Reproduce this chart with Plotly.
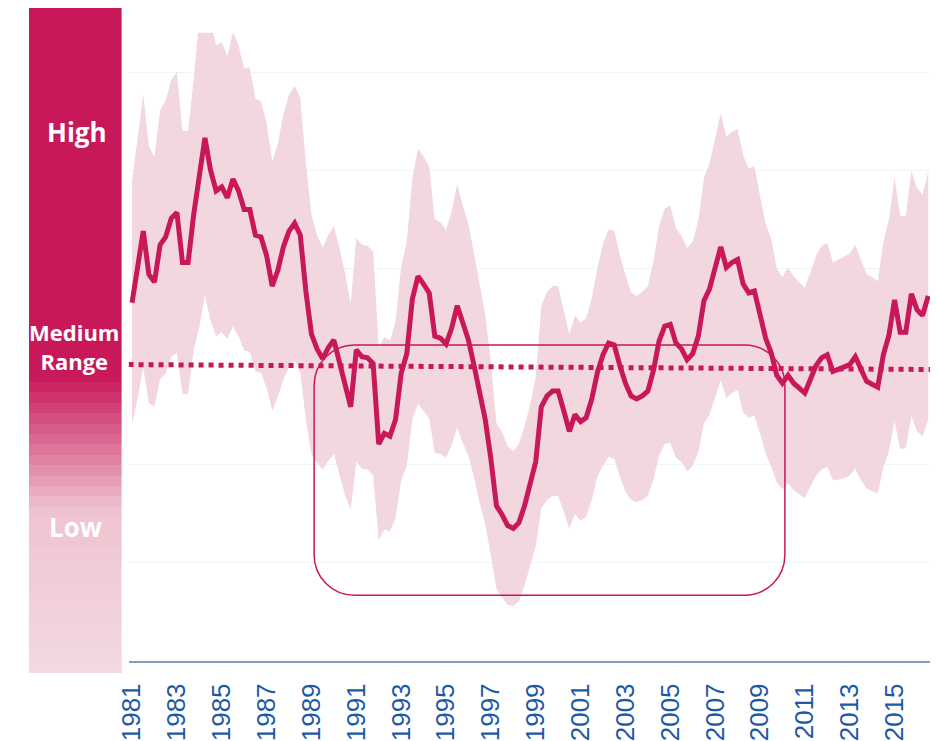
import numpy as np
import pandas as pd
import plotly.graph_objects as go

# quarterly series, 1981 Q1 .. 2016 Q3
FIRST_QUARTER = "1981Q1"
LAST_QUARTER = "2016Q3"

level = [
    3.65, 4.01, 4.38, 3.94,  # 1981
    3.86, 4.24, 4.32, 4.51,  # 1982
    4.57, 4.06, 4.06, 4.55,  # 1983
    4.98, 5.33, 5.00, 4.79,  # 1984
    4.83, 4.72, 4.91, 4.79,  # 1985
    4.60, 4.60, 4.34, 4.32,  # 1986
    4.13, 3.82, 3.98, 4.22,  # 1987
    4.38, 4.46, 4.34, 3.77,  # 1988
    3.33, 3.18, 3.08, 3.19,  # 1989
    3.27, 3.05, 2.82, 2.59,  # 1990
    3.17, 3.10, 3.09, 3.03,  # 1991
    2.21, 2.32, 2.29, 2.46,  # 1992
    2.93, 3.13, 3.69, 3.92,  # 1993
    3.84, 3.75, 3.31, 3.29,  # 1994
    3.23, 3.39, 3.62, 3.43,  # 1995
    3.27, 3.01, 2.72, 2.46,  # 1996
    2.06, 1.58, 1.49, 1.38,  # 1997
    1.35, 1.41, 1.58, 1.79,  # 1998
    2.03, 2.59, 2.70, 2.75,  # 1999
    2.75, 2.55, 2.34, 2.51,  # 2000
    2.44, 2.48, 2.67, 2.94,  # 2001
    3.12, 3.24, 3.22, 3.01,  # 2002
    2.83, 2.70, 2.67, 2.70,  # 2003
    2.75, 2.96, 3.26, 3.41,  # 2004
    3.43, 3.24, 3.18, 3.07,  # 2005
    3.13, 3.31, 3.67, 3.79,  # 2006
    4.01, 4.22, 4.01, 4.06,  # 2007
    4.09, 3.84, 3.75, 3.77,  # 2008
    3.53, 3.29, 3.14, 2.91,  # 2009
    2.83, 2.91, 2.83, 2.78,  # 2010
    2.73, 2.87, 3.01, 3.09,  # 2011
    3.12, 2.95, 2.97, 2.99,  # 2012
    3.02, 3.10, 2.96, 2.85,  # 2013
    2.82, 2.79, 3.12, 3.32,  # 2014
    3.68, 3.35, 3.35, 3.74,  # 2015
    3.58, 3.52, 3.72,        # 2016
]

# half width of the shaded range around the level
band_half_width = [
    1.24, 1.33, 1.39, 1.31,  # 1981
    1.27, 1.37, 1.39, 1.41,  # 1982
    1.43, 1.34, 1.34, 1.38,  # 1983
    1.58, 1.60, 1.53, 1.48,  # 1984
    1.48, 1.44, 1.50, 1.48,  # 1985
    1.44, 1.45, 1.39, 1.38,  # 1986
    1.35, 1.27, 1.29, 1.35,  # 1987
    1.39, 1.40, 1.40, 1.31,  # 1988
    1.22, 1.16, 1.13, 1.15,  # 1989
    1.16, 1.16, 1.13, 1.05,  # 1990
    1.14, 1.14, 1.14, 1.14,  # 1991
    0.98, 0.98, 0.97, 1.00,  # 1992
    1.09, 1.14, 1.23, 1.30,  # 1993
    1.30, 1.28, 1.19, 1.18,  # 1994
    1.16, 1.19, 1.24, 1.21,  # 1995
    1.18, 1.14, 1.11, 1.07,  # 1996
    0.98, 0.84, 0.84, 0.81,  # 1997
    0.79, 0.80, 0.81, 0.82,  # 1998
    0.86, 1.03, 1.06, 1.07,  # 1999
    1.07, 1.03, 0.99, 1.01,  # 2000
    1.01, 1.01, 1.03, 1.06,  # 2001
    1.13, 1.16, 1.16, 1.13,  # 2002
    1.10, 1.06, 1.05, 1.06,  # 2003
    1.07, 1.11, 1.17, 1.20,  # 2004
    1.21, 1.17, 1.15, 1.14,  # 2005
    1.14, 1.18, 1.25, 1.28,  # 2006
    1.32, 1.36, 1.33, 1.33,  # 2007
    1.33, 1.31, 1.27, 1.27,  # 2008
    1.21, 1.17, 1.16, 1.09,  # 2009
    1.08, 1.10, 1.09, 1.08,  # 2010
    1.07, 1.09, 1.12, 1.14,  # 2011
    1.14, 1.11, 1.12, 1.13,  # 2012
    1.13, 1.14, 1.12, 1.09,  # 2013
    1.09, 1.08, 1.15, 1.18,  # 2014
    1.24, 1.19, 1.18, 1.25,  # 2015
    1.24, 1.23, 1.26,        # 2016
]

tick_years = list(range(1981, 2016, 2))

# dotted reference level at the left and right edge of the chart
ref_level = [3.02, 2.97]

# highlighted period (rounded box)
box_years = [1989.12, 2010.11]
box_levels = [0.67, 3.22]

# left scale bar: labels and gradient stops (0 = bottom, 1 = top)
bar_labels = ["High", "Medium<br>Range", "Low"]
bar_stops = [[0.0, "#f3d9e0"], [0.245, "#eec3cf"], [0.446, "#c8185a"], [1.0, "#c8185a"]]

MAGENTA = "#c8185a"
BAND = "#f2d7de"
BLUE = "#1d5aa6"

# the page body adds an 8px offset, so the figure is drawn 8px smaller
OFFSET = 8
W, H = 938 - OFFSET, 741 - OFFSET
X_RANGE = [1980.846, 2016.629]
Y_RANGE = [0, 6.4]


def px_x(p):
    return min(1.0, max(0.0, (p - OFFSET) / W))


def px_y(p):
    return min(1.0, max(0.0, 1 - (p - OFFSET) / H))


periods = pd.period_range(FIRST_QUARTER, LAST_QUARTER, freq="Q")
years = np.asarray(periods.year + (periods.quarter - 1) / 4, dtype=float)
level = np.array(level)
half = np.array(band_half_width)
upper = level + half
lower = level - half

fig = go.Figure()

# shaded range
fig.add_trace(go.Scatter(x=years, y=lower, mode="lines", line=dict(width=0),
                         hoverinfo="skip", showlegend=False))
fig.add_trace(go.Scatter(x=years, y=upper, mode="lines", line=dict(width=0),
                         fill="tonexty", fillcolor=BAND, hoverinfo="skip", showlegend=False))

# dotted reference level
fig.add_trace(go.Scatter(x=X_RANGE, y=ref_level, mode="lines",
                         line=dict(color=MAGENTA, width=5, dash="5px,5px"),
                         hoverinfo="skip", showlegend=False))

# main line
fig.add_trace(go.Scatter(x=years, y=level, mode="lines",
                         line=dict(color=MAGENTA, width=5), showlegend=False))

# gradient scale bar on its own axes
n = 64
steps = (np.arange(n) + 0.5) / n
fig.add_trace(go.Heatmap(x=[0], y=steps, z=[[s] for s in steps], colorscale=bar_stops,
                         zmin=0, zmax=1, showscale=False, zsmooth=False,
                         hoverinfo="skip", xaxis="x2", yaxis="y2"))

# rounded box around the period
x0, x1 = box_years
y0, y1 = box_levels
rx, ry = 1.8, 0.41
k = 0.5523
path = (
    f"M {x0 + rx},{y1} L {x1 - rx},{y1} "
    f"C {x1 - rx + k * rx},{y1} {x1},{y1 - ry + k * ry} {x1},{y1 - ry} "
    f"L {x1},{y0 + ry} "
    f"C {x1},{y0 + ry - k * ry} {x1 - rx + k * rx},{y0} {x1 - rx},{y0} "
    f"L {x0 + rx},{y0} "
    f"C {x0 + rx - k * rx},{y0} {x0},{y0 + ry - k * ry} {x0},{y0 + ry} "
    f"L {x0},{y1 - ry} "
    f"C {x0},{y1 - ry + k * ry} {x0 + rx - k * rx},{y1} {x0 + rx},{y1} Z"
)
fig.add_shape(type="path", path=path, xref="x", yref="y",
              line=dict(color=MAGENTA, width=1.5), layer="above")

# labels on the scale bar
label_pos = [(66, 133, 26), (63, 349, 22), (64, 531, 26)]
for text, (lx, ly, size) in zip(bar_labels, label_pos):
    fig.add_annotation(x=px_x(lx), y=px_y(ly), xref="paper", yref="paper", text=f"<b>{text}</b>",
                       showarrow=False, xanchor="center", yanchor="middle",
                       font=dict(family="Open Sans", size=size, color="white"))

fig.update_layout(
    width=W, height=H,
    margin=dict(l=0, r=0, t=0, b=0),
    paper_bgcolor="white", plot_bgcolor="white",
    showlegend=False, hovermode=False,
    xaxis=dict(domain=[px_x(118), px_x(931)], range=X_RANGE, showgrid=False, zeroline=False,
               showline=True, linecolor="#8a98cc", linewidth=2,
               tickmode="array", tickvals=tick_years, ticktext=[str(y) for y in tick_years],
               tickangle=-90, ticks="", ticklabelstandoff=10,
               tickfont=dict(family="Liberation Sans, Arial", size=26, color=BLUE)),
    yaxis=dict(domain=[px_y(665.5), px_y(33)], range=Y_RANGE, showgrid=True, gridcolor="#eef5fa",
               gridwidth=1, dtick=1, zeroline=False, showticklabels=False, ticks=""),
    xaxis2=dict(domain=[px_x(17), px_x(111)], range=[-0.5, 0.5], visible=False, anchor="y2"),
    yaxis2=dict(domain=[px_y(678), px_y(6)], range=[0, 1], visible=False, anchor="x2"),
)

fig.write_html("out.html")
